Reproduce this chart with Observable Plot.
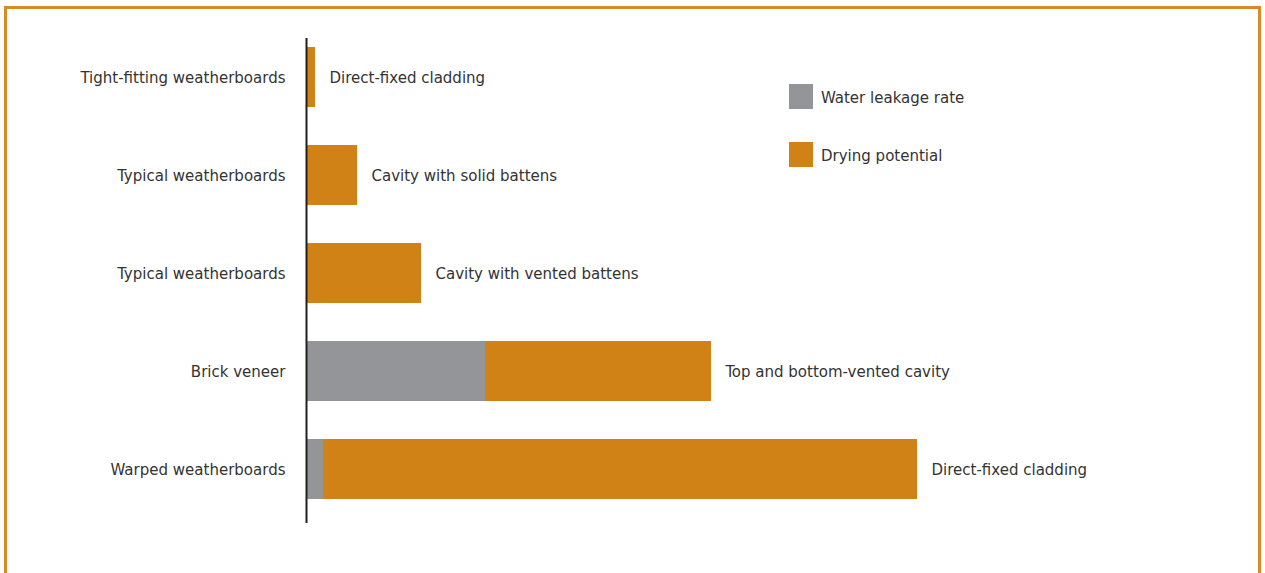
<!DOCTYPE html>
<html>
<head>
<meta charset="utf-8">
<script src="https://cdn.jsdelivr.net/npm/d3@7"></script>
<script src="https://cdn.jsdelivr.net/npm/@observablehq/plot@0.6"></script>
<style>
  html, body { margin: 0; padding: 0; background: #fff; overflow: hidden; width: 1265px; height: 573px; }
  #frame { position: absolute; left: 4px; top: 6px; width: 1251px; height: 620px; border: 3px solid #D68C25; }
  #chart { position: absolute; left: 0; top: 0; }
  #legend { position: absolute; left: 789px; top: 84px; font-family: "Liberation Sans Narrow", "DejaVu Sans Condensed", sans-serif; font-size: 16.7px; color: #333; }
  .item { display: flex; align-items: center; height: 25px; margin-bottom: 33px; }
  .sw { width: 24px; height: 25px; margin-right: 8px; }
</style>
</head>
<body>
<div id="frame"></div>
<div id="chart"></div>
<div id="legend"></div>
<script>
const walls = ["Tight-fitting weatherboards", "Typical weatherboards", "Typical weatherboards", "Brick veneer", "Warped weatherboards"];
const claddings = ["Direct-fixed cladding", "Cavity with solid battens", "Cavity with vented battens", "Top and bottom-vented cavity", "Direct-fixed cladding"];
const waterLeakage = [0, 0, 0, 179, 17];
const dryingPotential = [9, 51, 115, 226, 594];
const seriesNames = ["Water leakage rate", "Drying potential"];
const seriesColors = ["#939598", "#D08216"];

const rows = [];
walls.forEach((w, i) => {
  rows.push({row: i, series: seriesNames[0], value: waterLeakage[i]});
  rows.push({row: i, series: seriesNames[1], value: dryingPotential[i]});
});
const totals = walls.map((w, i) => ({row: i, total: waterLeakage[i] + dryingPotential[i], label: claddings[i]}));

const font = '"Liberation Sans Narrow", "DejaVu Sans Condensed", sans-serif';
const chart = Plot.plot({
  width: 1265,
  height: 573,
  marginLeft: 306,
  marginRight: 9,
  marginTop: 38,
  marginBottom: 50,
  style: {fontFamily: font, fontSize: "16.7px", color: "#333", background: "transparent"},
  x: {domain: [0, 950], axis: null},
  y: {domain: d3.range(walls.length), range: [27.3, 519.3], paddingInner: 0.39, paddingOuter: 0.195, label: null, tickSize: 0, tickPadding: 21, tickFormat: i => walls[i]},
  color: {domain: seriesNames, range: seriesColors},
  marks: [
    Plot.barX(rows, Plot.stackX({x: "value", y: "row", fill: "series", order: seriesNames})),
    Plot.text(totals, {x: "total", y: "row", text: "label", textAnchor: "start", dx: 14, fill: "#333", fontSize: 16.7}),
    Plot.ruleX([0], {stroke: "#231f20", strokeWidth: 2})
  ]
});
document.getElementById("chart").appendChild(chart);

const legend = document.getElementById("legend");
seriesNames.forEach((s, i) => {
  const item = document.createElement("div");
  item.className = "item";
  const sw = document.createElement("div");
  sw.className = "sw";
  sw.style.background = seriesColors[i];
  const t = document.createElement("span");
  t.textContent = s;
  item.appendChild(sw);
  item.appendChild(t);
  legend.appendChild(item);
});
</script>
</body>
</html>
